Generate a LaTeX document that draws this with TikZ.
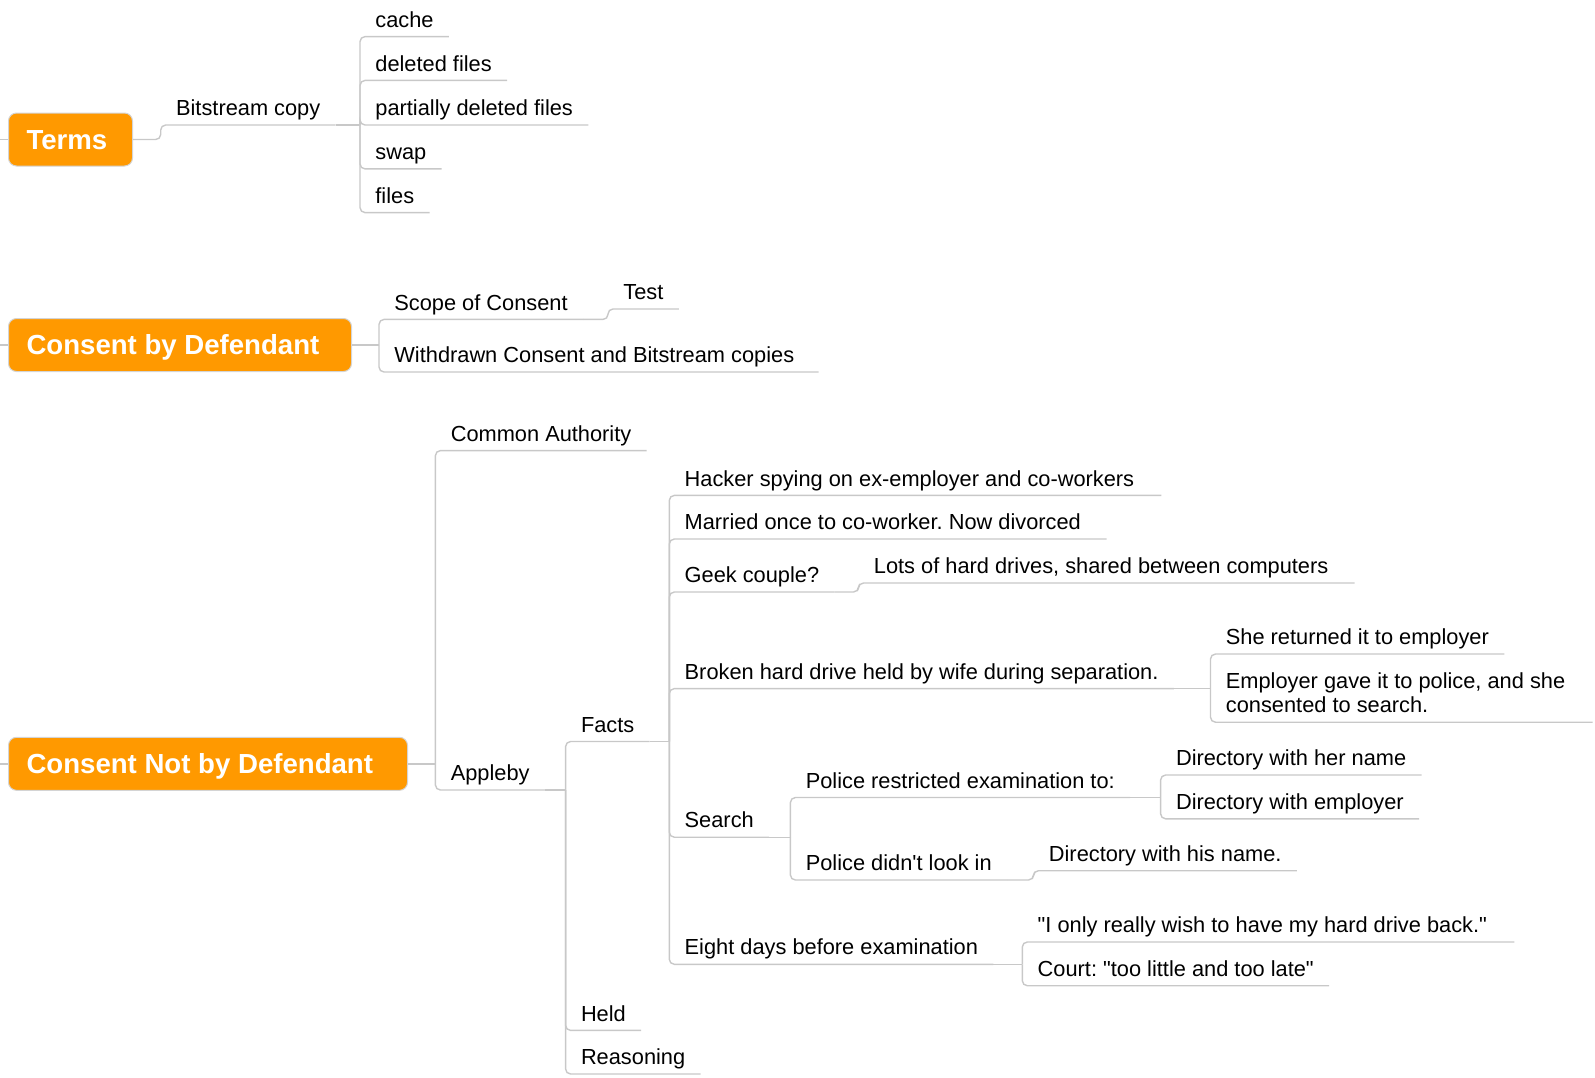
\documentclass[tikz,border=0pt]{standalone}
\usepackage{fontspec}
\setmainfont{Liberation Sans}[Ligatures=TeXOff]
\usepackage{xcolor}
\usepackage{tikz}
\definecolor{boxorange}{RGB}{255,153,0}
\definecolor{boxline}{RGB}{212,212,212}
\definecolor{linegray}{RGB}{200,200,200}
\frenchspacing

\begin{document}
\begin{tikzpicture}[x=0.5pt,y=-0.5pt]
    \tikzstyle{every node}+=[font=\fontsize{10.9}{12.2}\selectfont]
    \tikzstyle{topic}=[anchor=south west, inner xsep=7.5pt, inner ysep=0pt, text depth=4.5pt, align=flush left]
    \tikzstyle{mainbox}=[anchor=west, fill=boxorange, draw=boxline, line width=0.5pt, rounded corners=4pt, text=white, font=\fontsize{13.8}{16}\selectfont\bfseries, minimum height=26.5pt, inner xsep=9pt, text height=9.9pt, text depth=0pt, align=flush left]
    \tikzstyle{link}=[draw=linegray, line width=0.7pt, rounded corners=2.5pt]
    \useasboundingbox (0,0) rectangle (1595,1077);
    \node [mainbox, text width=44pt] (terms) at (8,139.5) {Terms};
    \node [mainbox, text width=153.5pt] (cbd) at (8,345) {Consent by Defendant};
    \node [mainbox, text width=181.5pt] (cnbd) at (8,763.8) {Consent Not by Defendant};
    \coordinate (rootterms) at (0,139.5);
    \coordinate (rootcbd) at (0,345);
    \coordinate (rootcnbd) at (0,763.8);
    \draw [link] (rootterms) -- (terms.west);
    \draw [link] (rootcbd) -- (cbd.west);
    \draw [link] (rootcnbd) -- (cnbd.west);
    \node [topic] (bitstream) at (160.7,125) {Bitstream copy};
    \node [topic] (cache) at (360,36.6) {cache};
    \node [topic] (deleted) at (360,80.4) {deleted files};
    \node [topic] (partial) at (360,125) {partially deleted files};
    \node [topic] (swap) at (360,168.9) {swap};
    \node [topic] (files) at (360,212.6) {files};
    \coordinate (bitstreamj) at (360,125);
    \draw [link] (terms.east) -| (bitstream.south west) -- (bitstream.south east);
    \draw [link] (bitstream.south east) -- (bitstreamj);
    \draw [link] (bitstreamj) |- (cache.south east);
    \draw [link] (bitstreamj) |- (deleted.south east);
    \draw [link] (bitstreamj) |- (partial.south east);
    \draw [link] (bitstreamj) |- (swap.south east);
    \draw [link] (bitstreamj) |- (files.south east);
    \node [topic] (scope) at (379,319.4) {Scope of Consent};
    \node [topic] (test) at (608,309) {Test};
    \node [topic, text width=204.4pt] (withdrawn) at (379,372) {Withdrawn Consent and Bitstream copies};
    \coordinate (cbdj) at (379,345);
    \draw [link] (cbd.east) -- (cbdj);
    \draw [link] (cbdj) |- (scope.south east);
    \draw [link] (cbdj) |- (withdrawn.south east);
    \draw [link] (scope.south east) -| (test.south west) -- (test.south east);
    \node [topic] (common) at (435.4,450.6) {Common Authority};
    \node [topic] (appleby) at (435.4,790) {Appleby};
    \coordinate (cnbdj) at (435.4,763.8);
    \draw [link] (cnbd.east) -- (cnbdj);
    \draw [link] (cnbdj) |- (common.south east);
    \draw [link] (cnbdj) |- (appleby.south east);
    \node [topic] (facts) at (565.6,741.5) {Facts};
    \node [topic] (held) at (565.6,1030.4) {Held};
    \node [topic] (reasoning) at (565.6,1074) {Reasoning};
    \coordinate (applebyj) at (565.6,790);
    \draw [link] (appleby.south east) -- (applebyj);
    \draw [link] (applebyj) |- (facts.south east);
    \draw [link] (applebyj) |- (held.south east);
    \draw [link] (applebyj) |- (reasoning.south east);
    \node [topic, text width=230.6pt] (hacker) at (669.3,495.4) {Hacker spying on ex-employer and co-workers};
    \node [topic, text width=203.2pt] (married) at (669.3,539) {Married once to co-worker. Now divorced};
    \node [topic] (geek) at (669.3,592) {Geek couple?};
    \node [topic] (broken) at (669.3,688.6) {Broken hard drive held by wife during separation.};
    \node [topic] (search) at (669.3,837.2) {Search};
    \node [topic] (eight) at (669.3,964.3) {Eight days before examination};
    \coordinate (factsj) at (669.3,741.5);
    \draw [link] (facts.south east) -- (factsj);
    \draw [link] (factsj) |- (hacker.south east);
    \draw [link] (factsj) |- (married.south east);
    \draw [link] (factsj) |- (geek.south east);
    \draw [link] (factsj) |- (broken.south east);
    \draw [link] (factsj) |- (search.south east);
    \draw [link] (factsj) |- (eight.south east);
    \node [topic, text width=232.7pt] (lots) at (858.5,583) {Lots of hard drives, shared between computers};
    \draw [link] (geek.south east) -| (lots.south west) -- (lots.south east);
    \node [topic] (returned) at (1210.5,654) {She returned it to employer};
    \node [topic] (gave) at (1210.5,722.2) {\begin{tabular}[b]{@{}p{175.7pt}@{}}Employer gave it to police, and she\\consented to search.\end{tabular}};
    \coordinate (brokenj) at (1210.5,688.6);
    \draw [link] (broken.south east) -- (brokenj);
    \draw [link] (brokenj) |- (returned.south east);
    \draw [link] (brokenj) |- (gave.south east);
    \node [topic] (restricted) at (790.4,797.5) {Police restricted examination to:};
    \node [topic] (didnt) at (790.4,880) {Police didn't look in};
    \coordinate (searchj) at (790.4,837.2);
    \draw [link] (search.south east) -- (searchj);
    \draw [link] (searchj) |- (restricted.south east);
    \draw [link] (searchj) |- (didnt.south east);
    \node [topic] (hername) at (1160.6,775) {Directory with her name};
    \node [topic] (employer) at (1160.6,818.8) {Directory with employer};
    \coordinate (restrictedj) at (1160.6,797.5);
    \draw [link] (restricted.south east) -- (restrictedj);
    \draw [link] (restrictedj) |- (hername.south east);
    \draw [link] (restrictedj) |- (employer.south east);
    \node [topic] (hisname) at (1033.5,870.7) {Directory with his name.};
    \draw [link] (didnt.south east) -| (hisname.south west) -- (hisname.south east);
    \node [topic, text width=230.6pt] (wish) at (1022.3,942) {"I only really wish to have my hard drive back."};
    \node [topic] (court) at (1022.3,985.7) {Court: "too little and too late"};
    \coordinate (eightj) at (1022.3,964.3);
    \draw [link] (eight.south east) -- (eightj);
    \draw [link] (eightj) |- (wish.south east);
    \draw [link] (eightj) |- (court.south east);
\end{tikzpicture}
\end{document}
